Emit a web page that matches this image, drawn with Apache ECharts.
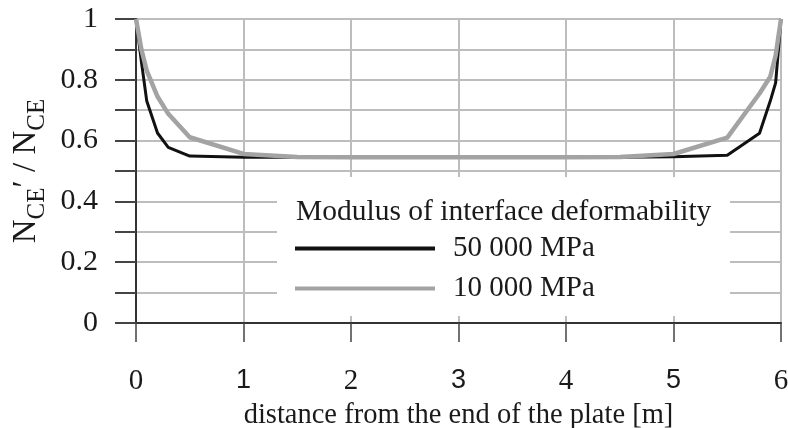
<!DOCTYPE html>
<html>
<head>
<meta charset="utf-8">
<script src="https://cdn.jsdelivr.net/npm/echarts@6/dist/echarts.min.js"></script>
<style>
  html, body { margin: 0; padding: 0; background: #fff; }
  #chart { width: 788px; height: 428px; }
</style>
</head>
<body>
<div id="chart"></div>
<script>
// distance [m] and N_CE'/N_CE for each modulus
const xBlack = [0, 0.05, 0.1, 0.2, 0.3, 0.5, 1, 1.5, 2, 2.5, 3, 3.5, 4, 4.5, 5, 5.5, 5.8, 5.9, 5.95, 6]
const yBlack = [1, 0.86, 0.73, 0.625, 0.578, 0.549, 0.545, 0.545, 0.545, 0.545, 0.545, 0.545, 0.545, 0.545, 0.547, 0.552, 0.624, 0.73, 0.79, 1]
const xGray = [0, 0.05, 0.1, 0.2, 0.3, 0.5, 1, 1.5, 2, 2.5, 3, 3.5, 4, 4.5, 5, 5.5, 5.8, 5.9, 5.95, 6]
const yGray = [1, 0.9, 0.83, 0.745, 0.688, 0.611, 0.556, 0.546, 0.545, 0.545, 0.545, 0.545, 0.545, 0.546, 0.556, 0.61, 0.755, 0.81, 0.88, 1]
const seriesNames = ['50 000 MPa', '10 000 MPa']
const legendTitle = 'Modulus of interface deformability'

const serif = 'Liberation Serif, Times New Roman, serif'
const sans = 'Liberation Sans, Arial, sans-serif'

const pairs = (xs, ys) => xs.map((x, i) => [x, ys[i]])

const chart = echarts.init(document.getElementById('chart'))
chart.setOption({
  animation: false,
  grid: { left: 136, right: 7, top: 19, bottom: 105, containLabel: false, outerBoundsMode: 'none' },
  xAxis: {
    type: 'value',
    min: 0,
    max: 6,
    interval: 1,
    name: 'distance from the end of the plate [m]',
    nameLocation: 'middle',
    nameGap: 70,
    nameTextStyle: { fontFamily: serif, fontSize: 28.5, color: '#1a1a1a' },
    axisLine: { lineStyle: { color: '#333', width: 2 } },
    axisTick: { show: true, inside: false, length: 19, lineStyle: { color: '#444', width: 1.5 } },
    splitLine: { show: true, lineStyle: { color: '#bdbdbd', width: 2 } },
    axisLabel: {
      margin: 44,
      formatter: v => (v % 2 === 1 ? '{s|' + v + '}' : '{r|' + v + '}'),
      rich: {
        r: { fontFamily: serif, fontSize: 29, color: '#1a1a1a' },
        s: { fontFamily: sans, fontSize: 27, color: '#1a1a1a', padding: [0, 0, 10, 0] }
      }
    }
  },
  yAxis: {
    type: 'value',
    min: 0,
    max: 1,
    interval: 0.1,
    name: '{n|N}{b|CE}{n|\u2032 / N}{b|CE}',
    nameLocation: 'middle',
    nameRotate: 90,
    nameGap: 92,
    nameTextStyle: {
      rich: {
        n: { fontFamily: serif, fontSize: 33, color: '#1a1a1a', verticalAlign: 'bottom', lineHeight: 34 },
        b: { fontFamily: serif, fontSize: 25, color: '#1a1a1a', verticalAlign: 'bottom', lineHeight: 34, padding: [0, 0, -7, 0] }
      }
    },
    axisLine: { show: true, lineStyle: { color: '#333', width: 2 } },
    axisTick: { show: true, length: 21, lineStyle: { color: '#444', width: 2 } },
    splitLine: { show: true, lineStyle: { color: '#bdbdbd', width: 2 } },
    axisLabel: {
      margin: 38,
      fontFamily: serif,
      fontSize: 30,
      color: '#1a1a1a',
      formatter: v => (Math.round(v * 10) % 2 === 0 ? String(+v.toFixed(1)) : '')
    }
  },
  graphic: [
    {
      type: 'rect',
      z: 5,
      shape: { x: 277, y: 177, width: 453, height: 139 },
      style: { fill: '#fff' }
    },
    {
      type: 'text',
      z: 6,
      x: 296,
      y: 212,
      style: {
        text: legendTitle,
        fontFamily: serif,
        fontSize: 29.5,
        fill: '#1a1a1a',
        verticalAlign: 'middle'
      }
    }
  ],
  legend: {
    z: 10,
    orient: 'vertical',
    left: 295,
    top: 234,
    padding: 0,
    itemGap: 11,
    itemWidth: 140,
    itemHeight: 4,
    icon: 'rect',
    data: seriesNames,
    textStyle: { fontFamily: serif, fontSize: 29, color: '#1a1a1a', padding: [0, 0, 0, 13] }
  },
  series: [
    {
      name: seriesNames[0],
      type: 'line',
      symbol: 'none',
      color: '#111',
      lineStyle: { color: '#111', width: 3 },
      data: pairs(xBlack, yBlack)
    },
    {
      name: seriesNames[1],
      type: 'line',
      symbol: 'none',
      color: '#a3a3a3',
      lineStyle: { color: '#a3a3a3', width: 4.5 },
      data: pairs(xGray, yGray)
    }
  ]
})
</script>
</body>
</html>
